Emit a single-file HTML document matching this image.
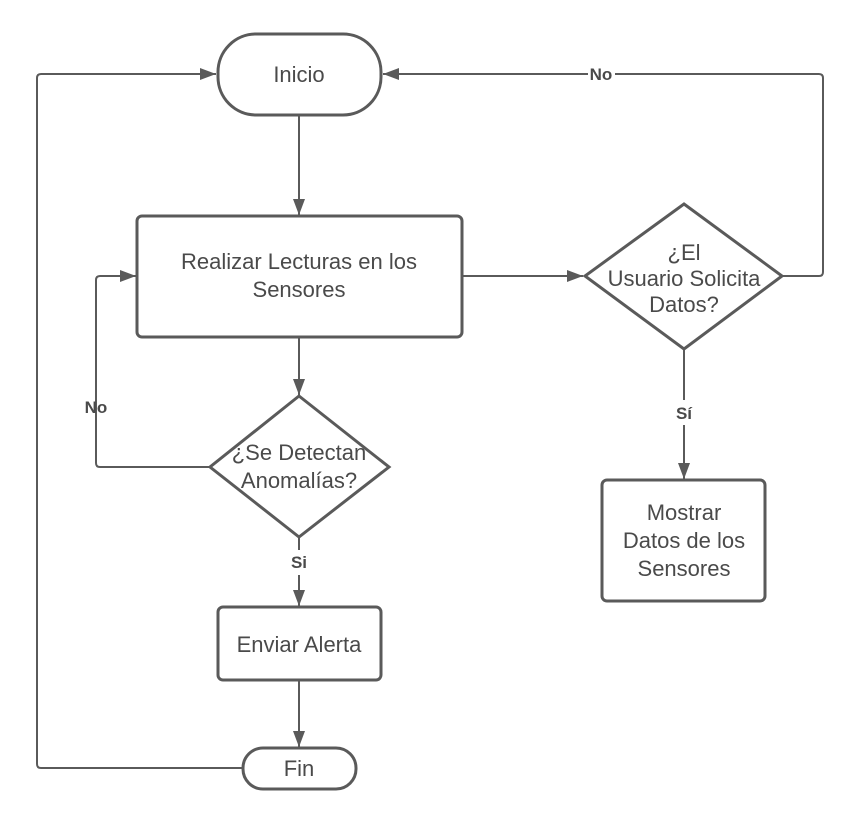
<!DOCTYPE html>
<html><head><meta charset="utf-8"><style>
html,body{margin:0;padding:0;background:#fff}
svg{display:block}
text{font-family:"Liberation Sans",Arial,sans-serif;fill:#4a4a4a}
</style></head><body>
<svg width="857" height="820" viewBox="0 0 857 820" xmlns="http://www.w3.org/2000/svg">
<defs>
<marker id="b" viewBox="0 0 16 12" refX="16" refY="6" markerWidth="16" markerHeight="12" orient="auto" markerUnits="userSpaceOnUse">
<path d="M0,0 L16,6 L0,12 z" fill="#5a5a5a"/>
</marker>
</defs>
<g fill="none" stroke="#5a5a5a" stroke-width="2">
<path d="M299,115 V215" marker-end="url(#b)"/>
<path d="M299,337 V395" marker-end="url(#b)"/>
<path d="M462,276 H583" marker-end="url(#b)"/>
<path d="M210,467 H100 Q96,467 96,463 V280 Q96,276 100,276 H136" marker-end="url(#b)"/>
<path d="M299,537 V550"/>
<path d="M299,575 V606" marker-end="url(#b)"/>
<path d="M299,680 V747" marker-end="url(#b)"/>
<path d="M243,768 H41 Q37,768 37,764 V78 Q37,74 41,74 H216" marker-end="url(#b)"/>
<path d="M782,276 H819 Q823,276 823,272 V78 Q823,74 819,74 H615"/>
<path d="M588,74 H383" marker-end="url(#b)"/>
<path d="M684,349 V400"/>
<path d="M684,425 V479" marker-end="url(#b)"/>
</g>
<g fill="#fff" stroke="#5a5a5a" stroke-width="3">
<rect x="218" y="34" width="163" height="81" rx="38"/>
<rect x="137" y="216" width="325" height="121" rx="5"/>
<polygon points="684,204 782,276 684,349 585,276"/>
<polygon points="299,396 389,467 299,537 210,467"/>
<rect x="218" y="607" width="163" height="73" rx="5"/>
<rect x="602" y="480" width="163" height="121" rx="5"/>
<rect x="243" y="748" width="113" height="41" rx="20"/>
</g>
<g font-size="22" text-anchor="middle">
<text x="299" y="82">Inicio</text>
<text x="299" y="269">Realizar Lecturas en los</text>
<text x="299" y="297">Sensores</text>
<text x="684" y="260">¿El</text>
<text x="684" y="286">Usuario Solicita</text>
<text x="684" y="312">Datos?</text>
<text x="299" y="460">¿Se Detectan</text>
<text x="299" y="488">Anomalías?</text>
<text x="299" y="652">Enviar Alerta</text>
<text x="684" y="520">Mostrar</text>
<text x="684" y="548">Datos de los</text>
<text x="684" y="576">Sensores</text>
<text x="299" y="776">Fin</text>
</g>
<g font-size="17" font-weight="bold" text-anchor="middle">
<text x="601" y="80">No</text>
<text x="96" y="413">No</text>
<text x="299" y="568">Si</text>
<text x="684" y="419">Sí</text>
</g>
</svg>
</body></html>
